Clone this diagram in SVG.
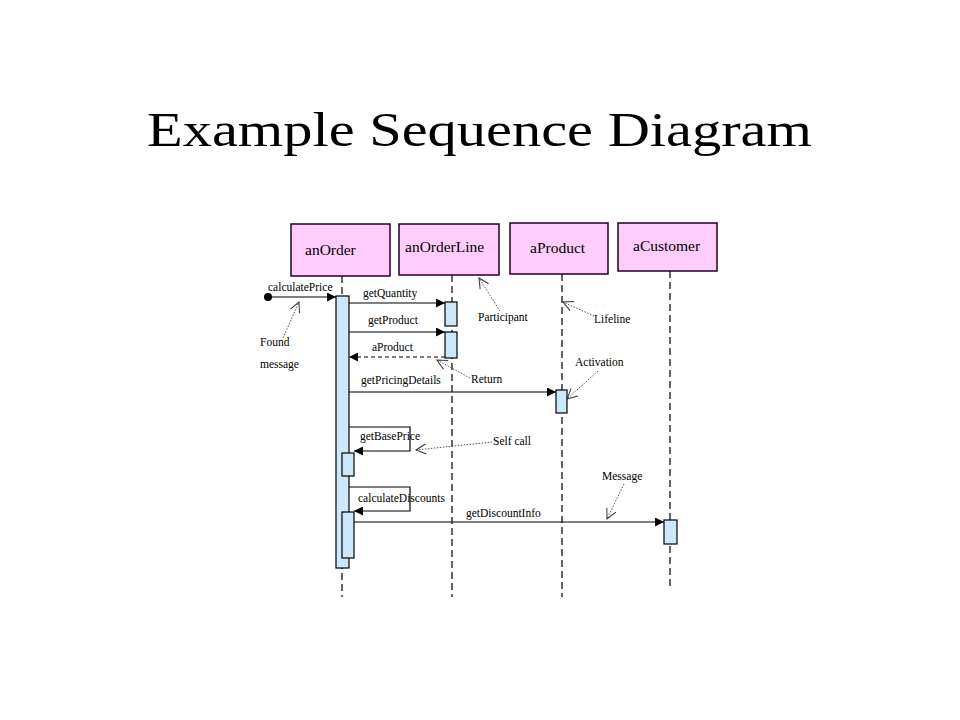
<svg xmlns="http://www.w3.org/2000/svg" width="960" height="720" viewBox="0 0 960 720">
<style>
text{font-family:"Liberation Serif","Times New Roman",serif;fill:#000}
.title{font-size:49px}
.pname{font-size:15.5px}
.lbl{font-size:11.5px}
.note{font-size:11.5px}
.box{fill:#FFCCFC;stroke:#220022;stroke-width:1.5}
.act{fill:#CCE8FA;stroke:#000;stroke-width:1.2}
.life{stroke:#000;stroke-width:1.2;stroke-dasharray:7 4;fill:none}
.msg{stroke:#000;stroke-width:1.2;fill:none}
.ret{stroke:#000;stroke-width:1.2;fill:none;stroke-dasharray:4 3}
.lead{stroke:#555;stroke-width:1;fill:none;stroke-dasharray:1.5 1.5}
</style>
<defs>
<marker id="fill" viewBox="0 0 10 10" refX="10" refY="5" markerWidth="10" markerHeight="9" markerUnits="userSpaceOnUse" orient="auto">
<path d="M0,0 L10,5 L0,10 Z" fill="#000"/>
</marker>
<marker id="open" viewBox="0 0 12 12" refX="11" refY="6" markerWidth="12" markerHeight="12" markerUnits="userSpaceOnUse" orient="auto">
<path d="M1,1 L11,6 L1,11" fill="none" stroke="#333" stroke-width="1"/>
</marker>
</defs>
<rect width="960" height="720" fill="#fff"/>
<text class="title" x="147" y="146" textLength="665" lengthAdjust="spacingAndGlyphs">Example Sequence Diagram</text>

<g id="lifelines">
<line class="life" x1="342" y1="276" x2="342" y2="597"/>
<line class="life" x1="452" y1="275" x2="452" y2="597"/>
<line class="life" x1="562" y1="274" x2="562" y2="597"/>
<line class="life" x1="670" y1="271" x2="670" y2="590"/>
</g>

<g id="anOrder">
<rect class="box" x="291" y="224" width="99" height="52"/>
<text class="pname" x="305" y="255">anOrder</text>
</g>
<g id="anOrderLine">
<rect class="box" x="399" y="224" width="100" height="51"/>
<text class="pname" x="405" y="252">anOrderLine</text>
</g>
<g id="aProduct">
<rect class="box" x="510" y="223" width="98" height="51"/>
<text class="pname" x="530" y="253">aProduct</text>
</g>
<g id="aCustomer">
<rect class="box" x="618" y="223" width="99" height="48"/>
<text class="pname" x="633" y="251">aCustomer</text>
</g>

<g id="activations">
<rect class="act" x="336" y="296" width="13" height="272"/>
<rect class="act" x="445" y="302" width="12" height="24"/>
<rect class="act" x="445" y="332" width="12" height="26"/>
<rect class="act" x="556" y="390" width="11" height="23"/>
<rect class="act" x="342" y="453" width="12" height="23"/>
<rect class="act" x="342" y="512" width="12" height="46"/>
<rect class="act" x="664" y="520" width="13" height="24"/>
</g>

<g id="connectors">
<circle cx="268" cy="297" r="4" fill="#000"/>
<line class="msg" x1="268" y1="297" x2="336" y2="297" marker-end="url(#fill)"/>
<line class="msg" x1="349" y1="303" x2="445" y2="303" marker-end="url(#fill)"/>
<line class="msg" x1="349" y1="332" x2="445" y2="332" marker-end="url(#fill)"/>
<line class="ret" x1="445" y1="357" x2="349" y2="357" marker-end="url(#fill)"/>
<line class="msg" x1="349" y1="392" x2="556" y2="392" marker-end="url(#fill)"/>
<polyline class="msg" points="349,427 410,427 410,451 354,451" marker-end="url(#fill)"/>
<polyline class="msg" points="349,487 410,487 410,511 354,511" marker-end="url(#fill)"/>
<line class="msg" x1="354" y1="522" x2="664" y2="522" marker-end="url(#fill)"/>

<path class="lead" d="M283,338 L299,302" marker-end="url(#open)"/>
<path class="lead" d="M500,311 L479,278" marker-end="url(#open)"/>
<path class="lead" d="M594,316 L563,302" marker-end="url(#open)"/>
<path class="lead" d="M470,378 L437,360" marker-end="url(#open)"/>
<path class="lead" d="M598,371 L567,399" marker-end="url(#open)"/>
<path class="lead" d="M492,442 L416,450" marker-end="url(#open)"/>
<path class="lead" d="M624,484 L607,519" marker-end="url(#open)"/>
</g>

<g id="labels">
<text class="lbl" x="268" y="291">calculatePrice</text>
<text class="lbl" x="363" y="297">getQuantity</text>
<text class="lbl" x="368" y="324">getProduct</text>
<text class="lbl" x="372" y="351">aProduct</text>
<text class="lbl" x="361" y="384">getPricingDetails</text>
<text class="lbl" x="360" y="440">getBasePrice</text>
<text class="lbl" x="358" y="502">calculateDiscounts</text>
<text class="lbl" x="466" y="517">getDiscountInfo</text>
</g>

<g id="notes">
<text class="note" x="260" y="346">Found</text>
<text class="note" x="260" y="368">message</text>
<text class="note" x="478" y="321">Participant</text>
<text class="note" x="594" y="323">Lifeline</text>
<text class="note" x="471" y="383">Return</text>
<text class="note" x="575" y="366">Activation</text>
<text class="note" x="493" y="445">Self call</text>
<text class="note" x="602" y="480">Message</text>
</g>
</svg>
